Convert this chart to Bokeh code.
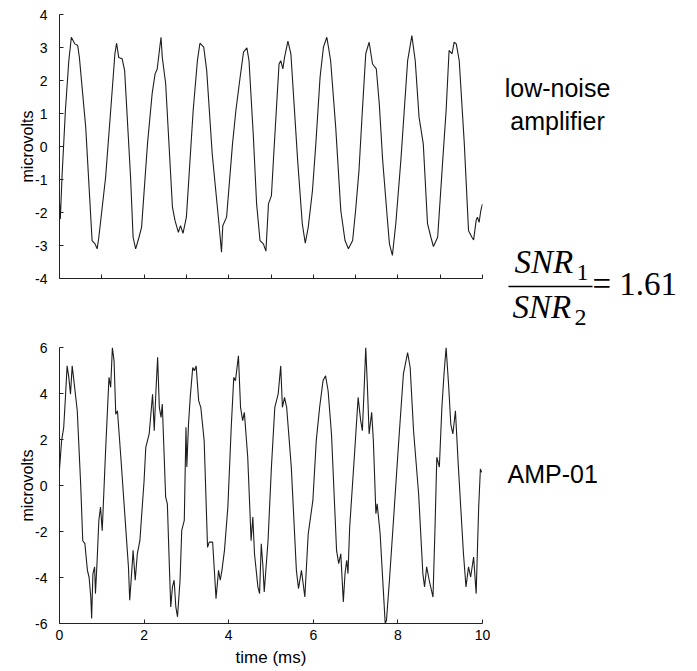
from bokeh.plotting import figure
from bokeh.models import Range1d, FixedTicker, Label, ColumnDataSource
from bokeh.layouts import column, row
from bokeh.embed import file_html
from bokeh.resources import INLINE

# ---------------- data ----------------
t_top = [0.00, 0.02, 0.06, 0.14, 0.22, 0.28, 0.36, 0.43, 0.47, 0.62, 0.77, 0.84, 0.89, 0.93,
         1.09, 1.21, 1.31, 1.35, 1.40, 1.48, 1.54, 1.68, 1.74, 1.80, 1.88, 1.94,
         2.08, 2.19, 2.26, 2.31, 2.37, 2.40, 2.43, 2.51, 2.67, 2.73, 2.81, 2.86, 2.92,
         3.00, 3.06, 3.16, 3.26, 3.32, 3.41, 3.48, 3.61, 3.77, 3.83, 3.86, 3.95,
         4.09, 4.17, 4.27, 4.35, 4.43, 4.48, 4.58, 4.66, 4.74, 4.82, 4.88, 4.94,
         5.01, 5.07, 5.19, 5.23, 5.28, 5.32, 5.40, 5.47, 5.63, 5.74, 5.81, 5.88, 5.98,
         6.06, 6.16, 6.24, 6.32, 6.41, 6.53, 6.65, 6.75, 6.83, 6.93,
         7.00, 7.08, 7.16, 7.24, 7.32, 7.40, 7.49, 7.56, 7.64, 7.76, 7.80, 7.87, 7.95,
         8.07, 8.15, 8.23, 8.33, 8.41, 8.50, 8.60, 8.70, 8.78, 8.84, 8.94,
         9.06, 9.14, 9.21, 9.28, 9.33, 9.38, 9.45, 9.57, 9.67, 9.75, 9.79, 9.85, 9.88,
         9.92, 9.96, 10.00]
v_top = [-1.70, -2.20, -0.90, 1.10, 2.60, 3.31, 3.11, 3.06, 2.70, 0.58, -2.85, -2.95, -3.10, -2.75,
         -0.93, 1.09, 2.81, 3.13, 2.70, 2.66, 2.30, -0.93, -2.75, -3.10, -2.75, -2.45,
         0.08, 1.60, 2.20, 2.35, 3.00, 3.31, 2.70, 1.90, -1.84, -2.24, -2.60, -2.40, -2.63,
         -2.14, -0.93, 1.09, 2.60, 3.13, 3.01, 2.30, -0.22, -2.34, -3.20, -2.40, -2.14,
         0.08, 1.09, 2.10, 2.86, 2.99, 2.60, 0.38, -1.74, -2.85, -2.95, -3.17, -1.74,
         -1.49, -0.12, 2.50, 2.60, 2.35, 2.70, 3.19, 2.81, -0.42, -2.34, -2.93, -2.45, -1.34,
         0.08, 2.10, 3.01, 3.31, 2.60, 0.58, -1.94, -2.85, -3.10, -2.85,
         -1.94, -0.73, 1.09, 2.81, 3.16, 2.50, 2.35, 1.29, -0.42, -2.34, -2.95, -3.30, -2.34,
         -0.42, 1.09, 2.60, 3.36, 2.60, 0.89, 0.08, -2.34, -2.75, -3.03, -2.75,
         -0.42, 1.09, 2.91, 2.81, 3.16, 3.11, 2.60, 0.08, -2.55, -2.75, -2.83, -2.24, -2.14,
         -2.30, -1.94, -1.74]

t_bot = [0.00, 0.05, 0.10, 0.14, 0.18, 0.22, 0.26, 0.30, 0.34, 0.42, 0.50, 0.55, 0.60, 0.66,
         0.70, 0.74, 0.76, 0.79, 0.83, 0.85, 0.89, 0.93, 0.97, 1.01, 1.09, 1.17, 1.21, 1.25,
         1.29, 1.33, 1.37, 1.45, 1.57, 1.63, 1.66, 1.71, 1.74, 1.79, 1.84, 1.90, 2.00, 2.04,
         2.12, 2.20, 2.24, 2.28, 2.32, 2.36, 2.40, 2.43, 2.51, 2.55, 2.59, 2.63, 2.67, 2.71,
         2.75, 2.79, 2.85, 2.89, 2.95, 2.99, 3.01, 3.05, 3.09, 3.15, 3.19, 3.23, 3.29, 3.34,
         3.42, 3.50, 3.54, 3.62, 3.68, 3.70, 3.76, 3.80, 3.84, 3.90, 3.98, 4.06, 4.12, 4.16,
         4.23, 4.28, 4.33, 4.37, 4.45, 4.53, 4.57, 4.61, 4.69, 4.73, 4.77, 4.81, 4.84, 4.93,
         5.01, 5.09, 5.17, 5.23, 5.27, 5.32, 5.37, 5.48, 5.60, 5.65, 5.72, 5.80, 5.88, 5.99,
         6.07, 6.15, 6.23, 6.29, 6.35, 6.43, 6.55, 6.60, 6.65, 6.71, 6.75, 6.79, 6.82, 6.86,
         6.98, 7.06, 7.12, 7.16, 7.20, 7.24, 7.28, 7.32, 7.38, 7.42, 7.48, 7.51, 7.58, 7.66,
         7.70, 7.73, 7.80, 7.89, 8.01, 8.13, 8.23, 8.29, 8.37, 8.49, 8.59, 8.63, 8.68, 8.74,
         8.83, 8.88, 8.92, 8.98, 9.04, 9.09, 9.14, 9.20, 9.25, 9.30, 9.36, 9.43, 9.55, 9.61,
         9.67, 9.72, 9.79, 9.85, 9.91, 9.95, 9.98]
v_bot = [0.70, 1.95, 2.53, 3.83, 5.20, 4.70, 3.97, 5.20, 4.56, 3.25, 0.07, -2.40, -2.53, -3.69,
         -4.00, -4.85, -5.78, -3.83, -3.54, -4.70, -3.25, -1.52, -0.94, -1.97, 1.52, 4.70, 4.27, 6.00,
         5.42, 3.10, 3.25, 1.23, -1.95, -3.54, -4.99, -3.69, -2.82, -4.12, -2.97, -2.40, 0.22, 1.66,
         2.24, 3.97, 2.38, 4.12, 5.57, 3.40, 2.96, 3.54, -0.51, -0.80, -3.11, -5.28, -4.41, -4.12,
         -5.28, -5.71, -4.12, -1.95, -1.52, 2.53, 0.80, 2.67, 3.83, 5.13, 4.99, 5.20, 3.69, 3.40,
         1.95, -2.69, -2.46, -2.46, -4.27, -4.92, -3.69, -4.12, -3.69, -2.82, -0.94, 2.53, 4.70, 4.56,
         5.64, 3.40, 2.82, 3.18, 1.23, -2.40, -1.37, -2.97, -4.41, -4.70, -2.53, -3.54, -4.63, -2.40,
         0.80, 3.40, 3.98, 5.20, 3.40, 3.83, 3.40, 0.80, -3.69, -4.48, -3.69, -4.85, -2.10, -0.65,
         1.95, 3.40, 4.56, 4.77, 4.12, 2.24, -2.82, -3.40, -2.97, -5.06, -3.83, -3.25, -3.83, -1.81,
         1.52, 3.83, 2.82, 2.38, 4.12, 6.00, 4.27, 2.24, 3.18, 1.95, -1.23, -0.80, -2.10, -4.70,
         -6.00, -5.86, -4.12, -1.66, 1.66, 4.85, 5.78, 5.13, 2.38, -0.37, -3.83, -4.41, -3.54, -4.12,
         -4.85, -1.66, 1.23, 0.80, 3.40, 4.85, 6.00, 4.34, 2.67, 2.24, 3.25, 0.80, -2.97, -4.41,
         -3.54, -3.98, -3.11, -4.70, -0.94, 0.72, 0.57]

top_xticks = [0, 1, 2, 3, 4, 5, 6, 7, 8, 9, 10]
top_yticks = [-4, -3, -2, -1, 0, 1, 2, 3, 4]
bot_xticks = [0, 2, 4, 6, 8, 10]
bot_yticks = [-6, -4, -2, 0, 2, 4, 6]
y_label = "microvolts"
x_label = "time (ms)"
top_name = ["low-noise", "amplifier"]
bot_name = "AMP-01"
snr_ratio = "1.61"

SANS = "Liberation Sans"
SERIF = "Liberation Serif"
LINE = "#1e1e1e"

W_PLOT = 490
W_TEXT = 200
H1 = 340
H2 = 330


def style(p, xticks, yticks, xlabels):
    p.outline_line_color = None
    p.grid.visible = False
    p.background_fill_color = "white"
    p.border_fill_color = "white"
    for ax in (p.xaxis[0], p.yaxis[0]):
        ax.axis_line_color = "#222222"
        ax.axis_line_width = 1
        ax.major_tick_line_color = "#222222"
        ax.major_tick_in = 4
        ax.major_tick_out = 0
        ax.minor_tick_line_color = None
        ax.major_label_text_font = SANS
        ax.major_label_text_font_size = "14px"
        ax.major_label_text_color = "black"
        ax.axis_label_text_font = SANS
        ax.axis_label_text_font_style = "normal"
        ax.axis_label_text_color = "black"
    p.xaxis.ticker = FixedTicker(ticks=xticks)
    p.yaxis.ticker = FixedTicker(ticks=yticks)
    p.yaxis.major_label_overrides = {t: ("-%d" % -t if t < 0 else "%d" % t) for t in yticks}
    p.yaxis.major_label_standoff = 12
    p.yaxis.axis_label = y_label
    p.yaxis.axis_label_standoff = -4
    p.yaxis.axis_label_text_font_size = "16px"
    p.xaxis.major_label_standoff = 6
    if xlabels:
        p.xaxis.major_label_overrides = {t: "%d" % t for t in xticks}
    else:
        p.xaxis.major_label_overrides = {t: "" for t in xticks}


# ---------------- top panel ----------------
p1 = figure(width=W_PLOT, height=H1, output_backend="svg", toolbar_location=None,
            x_range=Range1d(0, 10), y_range=Range1d(-4, 4),
            min_border_left=59, min_border_right=8, min_border_top=14, min_border_bottom=62)
p1.line(x="t", y="v", source=ColumnDataSource(dict(t=t_top, v=v_top)),
        line_color=LINE, line_width=1.1)
style(p1, top_xticks, top_yticks, xlabels=False)

# ---------------- bottom panel ----------------
p2 = figure(width=W_PLOT, height=H2, output_backend="svg", toolbar_location=None,
            x_range=Range1d(0, 10), y_range=Range1d(-6, 6),
            min_border_left=59, min_border_right=8, min_border_top=7, min_border_bottom=47)
p2.line(x="t", y="v", source=ColumnDataSource(dict(t=t_bot, v=v_bot)),
        line_color=LINE, line_width=1.1)
style(p2, bot_xticks, bot_yticks, xlabels=True)
p2.xaxis.axis_label = x_label
p2.xaxis.axis_label_standoff = 5
p2.xaxis.axis_label_text_font_size = "17px"

# ---------------- right-hand annotation panel (units = page pixels, y downwards) ----------
t = figure(width=W_TEXT, height=H1 + H2, output_backend="svg", toolbar_location=None,
           x_range=Range1d(W_PLOT, W_PLOT + W_TEXT), y_range=Range1d(H1 + H2, 0),
           x_axis_location=None, y_axis_location=None,
           min_border_left=0, min_border_right=0, min_border_top=0, min_border_bottom=0)
t.outline_line_color = None
t.grid.visible = False
t.background_fill_color = "white"
t.border_fill_color = "white"


def put(x, baseline, text, size, font=SANS, style="normal", align="left"):
    # the svg backend draws 'alphabetic' text about 0.4 em lower than its anchor
    t.add_layout(Label(x=x, y=baseline - 0.4 * size, text=text, text_font=font,
                       text_font_style=style, text_font_size="%dpx" % size,
                       text_align=align, text_baseline="alphabetic", text_color="black"))


put(557, 97, top_name[0], 25, align="center")
put(557, 130, top_name[1], 25, align="center")

# SNR1 / SNR2 = 1.61
put(514, 275, "SNR", 33, font=SERIF, style="italic")
put(576, 282, "1", 24, font=SERIF)
t.segment(x0=[508], y0=[286], x1=[592], y1=[286], line_color="black", line_width=1.5)
put(512, 320, "SNR", 33, font=SERIF, style="italic")
put(574, 327, "2", 24, font=SERIF)
put(592, 297, "= " + snr_ratio, 33, font=SERIF)

put(507, 483, bot_name, 25)

layout = row(column(p1, p2), t)
open("out.html", "w").write(file_html(layout, INLINE))
